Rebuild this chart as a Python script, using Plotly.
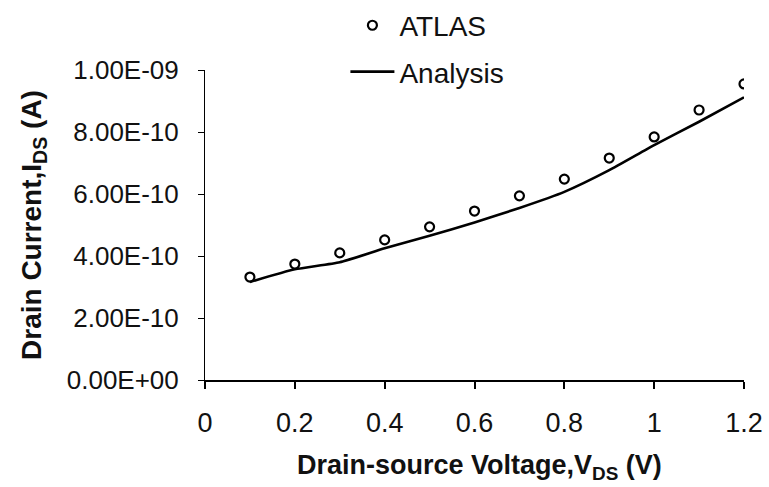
import plotly.graph_objects as go

# Data
vds = [0.1, 0.2, 0.3, 0.4, 0.5, 0.6, 0.7, 0.8, 0.9, 1.0, 1.1, 1.2]
atlas = [3.32e-10, 3.74e-10, 4.10e-10, 4.52e-10, 4.94e-10, 5.45e-10,
         5.94e-10, 6.48e-10, 7.16e-10, 7.84e-10, 8.71e-10, 9.55e-10]
analysis = [3.16e-10, 3.57e-10, 3.80e-10, 4.25e-10, 4.65e-10, 5.08e-10,
            5.55e-10, 6.07e-10, 6.77e-10, 7.58e-10, 8.33e-10, 9.12e-10]

y_tickvals = [0, 2e-10, 4e-10, 6e-10, 8e-10, 1e-9]
y_ticktext = ["0.00E+00", "2.00E-10", "4.00E-10", "6.00E-10", "8.00E-10", "1.00E-09"]
x_tickvals = [0, 0.2, 0.4, 0.6, 0.8, 1.0, 1.2]
x_ticktext = ["0", "0.2", "0.4", "0.6", "0.8", "1", "1.2"]
x_title = "<b>Drain-source Voltage,V<sub>DS</sub> (V)</b>"
y_title = "<b>Drain Current,I<sub>DS</sub> (A)</b>"

FONT = "Arial, Liberation Sans, sans-serif"

fig = go.Figure()
fig.add_trace(go.Scatter(
    x=vds, y=atlas, mode="markers", name="ATLAS", legendgroup="a",
    marker=dict(symbol="circle-open", size=9, color="black", line=dict(width=2.2, color="black")),
))
fig.add_trace(go.Scatter(
    x=vds, y=analysis, mode="lines", name="Analysis", legendgroup="b",
    line=dict(color="black", width=2.6, shape="spline", smoothing=0.5),
))

fig.update_layout(
    width=769, height=487,
    margin=dict(l=205, r=25, t=70, b=107, autoexpand=False),
    paper_bgcolor="white", plot_bgcolor="white",
    font=dict(family=FONT, size=27, color="#111"),
    showlegend=True,
    legend=dict(
        x=0.2605, y=1.224, xanchor="left", yanchor="top",
        bgcolor="rgba(0,0,0,0)", tracegroupgap=7,
        font=dict(family=FONT, size=28, color="#111"),
        itemwidth=44,
    ),
    xaxis=dict(
        range=[0, 1.2], tickvals=x_tickvals, ticktext=x_ticktext,
        showgrid=False, zeroline=False, showline=True, linecolor="black", linewidth=2,
        ticks="outside", ticklen=7, tickwidth=2, tickcolor="black",
        ticklabelstandoff=11,
        tickfont=dict(family=FONT, size=27, color="#111"),
    ),
    yaxis=dict(
        range=[0, 1e-9], tickvals=y_tickvals, ticktext=y_ticktext,
        showgrid=False, zeroline=False, showline=True, linecolor="black", linewidth=1,
        ticks="outside", ticklen=6, tickwidth=1, tickcolor="black",
        ticklabelstandoff=14,
        tickfont=dict(family=FONT, size=26, color="#111"),
        title=dict(text=y_title, standoff=16,
                   font=dict(family=FONT, size=28, color="#111")),
    ),
    annotations=[dict(
        text=x_title, xref="paper", yref="paper", x=0.51, y=-0.28,
        xanchor="center", yanchor="middle", showarrow=False,
        font=dict(family=FONT, size=27, color="#111"),
    )],
)

fig.write_html("out.html")
